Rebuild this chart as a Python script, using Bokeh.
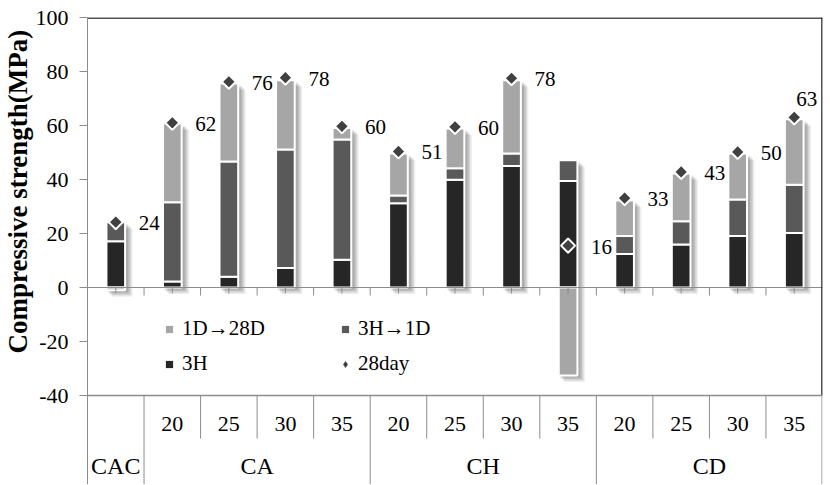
import numpy as np
from bokeh.plotting import figure
from bokeh.models import (ColumnDataSource, Range1d, FixedTicker, Title, Legend,
                          LegendItem)
from bokeh.core.properties import value
from bokeh.embed import file_html
from bokeh.resources import INLINE

# ---------------- data ----------------
groups = ["CAC", "CA", "CA", "CA", "CA", "CH", "CH", "CH", "CH", "CD", "CD", "CD", "CD"]
subs = ["", "20", "25", "30", "35", "20", "25", "30", "35", "20", "25", "30", "35"]
h_3h = [17.1, 2.2, 4.0, 7.2, 10.3, 31.2, 39.9, 45.0, 39.4, 12.4, 15.9, 19.1, 20.2]
h_3h_1d = [7.1, 29.4, 42.7, 43.9, 44.5, 2.9, 4.3, 4.6, 7.7, 6.7, 8.6, 13.5, 17.9]
h_1d_28d = [-1.0, 29.1, 28.9, 25.7, 4.3, 15.5, 14.7, 27.2, -32.6, 13.1, 17.7, 17.0, 24.2]
day28 = [24.2, 61.0, 76.2, 77.7, 59.7, 50.4, 59.5, 77.5, 15.5, 33.1, 42.8, 50.2, 63.0]
day28_labels = ["24", "62", "76", "78", "60", "51", "60", "78", "16", "33", "43", "50", "63"]
y_ticks = [-40, -20, 0, 20, 40, 60, 80, 100]
y_title = "Compressive strength(MPa)"
legend_names = ["1D\u219228D", "3H\u21921D", "3H", "28day"]

# ---------------- geometry / style ----------------
FONT = "Liberation Serif"
C_3H, C_3H1D, C_1D28D, C_DIA = "#262626", "#595959", "#a6a6a6", "#404040"
GRID = "#8c8c8c"
W, H = 828, 484
LEFT, TOP, RIGHT = 87, 17, 6
FRAME_W = W - LEFT - RIGHT
FRAME_H = H - TOP
Y_MAX = 100.0
PX_Y = 2.70
Y_MIN = Y_MAX - FRAME_H / PX_Y
n = len(groups)
PX_X = FRAME_W / n

xc = np.arange(n) + 0.5
a3 = np.array(h_3h)
a2 = np.array(h_3h_1d)
a1 = np.array(h_1d_28d)
t3 = a3
t2 = a3 + a2
b1 = np.where(a1 >= 0, t2, 0.0)
t1 = np.where(a1 >= 0, t2 + a1, a1)
sh_top = np.maximum(t2, t1)
sh_bot = np.minimum(0.0, t1)

src = ColumnDataSource(dict(x=xc, b3=np.zeros(n), t3=t3, b2=t3, t2=t2, b1=b1, t1=t1,
                            d28=day28, lab=day28_labels,
                            xo=[23] * (n - 1) + [2], yo=[1] * (n - 1) + [-18]))

p = figure(width=W, height=H, x_range=Range1d(0, n), y_range=Range1d(Y_MIN, Y_MAX),
           output_backend="svg", toolbar_location=None, x_axis_location=None,
           min_border_left=LEFT, min_border_right=RIGHT, min_border_top=TOP,
           min_border_bottom=0)
p.outline_line_color = None
p.xgrid.visible = False
p.ygrid.visible = False
p.background_fill_color = "white"
p.border_fill_color = "white"

ax = p.yaxis[0]
ax.ticker = FixedTicker(ticks=y_ticks)
ax.major_label_overrides = {t: str(t) for t in y_ticks}
ax.axis_line_color = GRID
ax.major_tick_line_color = GRID
ax.minor_tick_line_color = None
ax.major_tick_out = 8
ax.major_tick_in = 0
ax.major_label_standoff = 11
ax.major_label_text_font = FONT
ax.major_label_text_font_size = "22px"
ax.major_label_text_color = "black"

# y axis title (vertical, left side)
p.add_layout(Title(text=y_title, align="left", offset=131, standoff=0,
                   text_font=FONT, text_font_size="27px", text_font_style="bold",
                   text_color="black"), "left")

BW = 0.33
# shadows
for off, alpha in [(2.0, 0.10), (3.5, 0.10), (5.0, 0.10), (6.5, 0.07)]:
    p.vbar(x=xc + off / PX_X, width=BW + 2 / PX_X, top=sh_top - off / PX_Y,
           bottom=sh_bot - off / PX_Y, fill_color="black", fill_alpha=alpha,
           line_color=None)

r3 = p.vbar(x="x", width=BW, bottom="b3", top="t3", source=src, fill_color=C_3H,
            line_color="white", line_width=2)
r2 = p.vbar(x="x", width=BW, bottom="b2", top="t2", source=src, fill_color=C_3H1D,
            line_color="white", line_width=2)
r1 = p.vbar(x="x", width=BW, bottom="b1", top="t1", source=src, fill_color=C_1D28D,
            line_color="white", line_width=2)

# zero axis line with ticks
p.segment(x0=[0], x1=[n], y0=[0], y1=[0], line_color=GRID, line_width=1)
bnd = np.arange(1, n)
p.segment(x0=bnd, x1=bnd, y0=0, y1=-8 / PX_Y, line_color=GRID, line_width=1)
p.segment(x0=xc, x1=xc, y0=0, y1=-6 / PX_Y, line_color=GRID, line_width=1)

# 28 day markers and labels
p.scatter(x="x", y="d28", source=src, marker="square", angle=np.pi / 4, size=10,
          fill_color=C_DIA, line_color="white", line_width=2)
p.text(x="x", y="d28", text="lab", source=src, x_offset="xo", y_offset="yo",
       text_font=value(FONT), text_font_size="21px", text_align="left",
       text_baseline="middle", text_color="black")

# frame top / right lines
p.segment(x0=[0], x1=[n], y0=[Y_MAX - 0.5 / PX_Y], y1=[Y_MAX - 0.5 / PX_Y],
          line_color="#1a1a1a", line_width=1.5)
p.segment(x0=[n - 0.5 / PX_X], x1=[n - 0.5 / PX_X], y0=[-40], y1=[Y_MAX],
          line_color="#1a1a1a", line_width=1.5)

# category table below the plot
p.segment(x0=[0], x1=[n], y0=[-40], y1=[-40], line_color=GRID, line_width=1.5)
row1_bottom = -40 - 43 / PX_Y
xs0, ys1 = [], []
for b in range(1, n):
    xs0.append(b)
    ys1.append(Y_MIN if groups[b] != groups[b - 1] else row1_bottom)
xs0.append(n - 0.5 / PX_X)
ys1.append(Y_MIN)
p.segment(x0=xs0, x1=xs0, y0=-40, y1=ys1, line_color=GRID, line_width=1)

sub_y = -40 - 28 / PX_Y
p.text(x=xc, y=[sub_y] * n, text=subs, text_font=value(FONT), text_font_size="22px",
       text_align="center", text_baseline="middle", text_color="black")
g_names, g_x = [], []
for g in dict.fromkeys(groups):
    idx = [i for i, v in enumerate(groups) if v == g]
    g_names.append(g)
    g_x.append(np.mean(xc[idx]))
grp_y = -40 - 70 / PX_Y
p.text(x=g_x, y=[grp_y] * len(g_x), text=g_names, text_font=value(FONT),
       text_font_size="24px", text_align="center", text_baseline="middle",
       text_color="black")

# legend (proxy glyphs)
nan = [np.nan]
lg1 = p.scatter(x=nan, y=nan, marker="square", fill_color=C_1D28D, line_color=None)
lg2 = p.scatter(x=nan, y=nan, marker="square", fill_color=C_3H1D, line_color=None)
lg3 = p.scatter(x=nan, y=nan, marker="square", fill_color=C_3H, line_color=None)
lg4 = p.scatter(x=nan, y=nan, marker="diamond", fill_color=C_DIA, line_color=None)
legend = Legend(items=[LegendItem(label=legend_names[0], renderers=[lg1]),
                       LegendItem(label=legend_names[1], renderers=[lg2]),
                       LegendItem(label=legend_names[2], renderers=[lg3]),
                       LegendItem(label=legend_names[3], renderers=[lg4])],
                location=(73, 108), orientation="horizontal", ncols=2,
                glyph_width=18, glyph_height=18, label_standoff=4,
                label_width=144, label_height=25, spacing=10, padding=0, margin=0,
                border_line_color=None, background_fill_alpha=0,
                label_text_font=FONT, label_text_font_size="21px",
                label_text_color="black")
p.add_layout(legend, "center")

open("out.html", "w").write(file_html(p, INLINE))
